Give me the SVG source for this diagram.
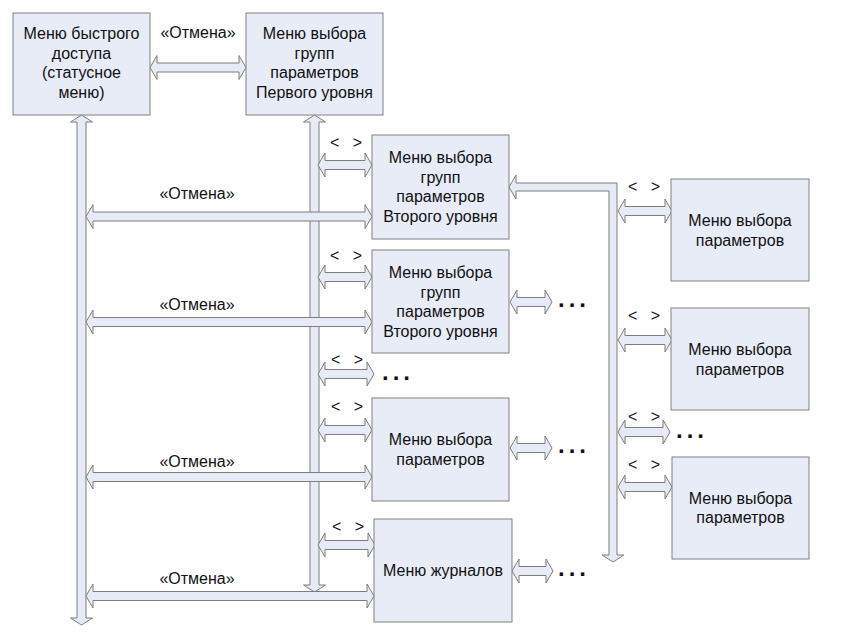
<svg xmlns="http://www.w3.org/2000/svg" width="855" height="638" viewBox="0 0 855 638">
<style>
.box{fill:#e8ecf7;stroke:#808080;stroke-width:1}
.arr{fill:#e6ebf6;stroke:#7d7d7d;stroke-width:1;stroke-linejoin:miter}
.t{font-family:"Liberation Sans",Arial,sans-serif;font-size:16px;fill:#111;text-anchor:middle}
.lt{font-family:"Liberation Sans",Arial,sans-serif;font-size:16px;fill:#111;white-space:pre}
.dots{font-family:"Liberation Sans",Arial,sans-serif;font-size:24px;font-weight:bold;fill:#111;letter-spacing:4px}
</style>
<rect width="855" height="638" fill="#fff"/>
<g id="connectors">
  <!-- vertical trunks -->
  <path class="arr" d="M81.5 115 L92.5 122 L86 122 L86 618 L92.5 618 L81.5 625 L70.5 618 L77 618 L77 122 L70.5 122 Z"/>
  <path class="arr" d="M314.5 115 L325.5 122 L319 122 L319 585 L325.5 585 L314.5 592 L303.5 585 L310 585 L310 122 L303.5 122 Z"/>
  <path class="arr" d="M509 187 L516 175 L516 183 L617 183 L617 555 L624 555 L613 562 L602 555 L609 555 L609 191 L516 191 L516 199 Z"/>
  <!-- top -->
  <path class="arr" d="M150 67.5 l7 -12 v7.5 h82 v-7.5 l7 12 l-7 12 v-7.5 h-82 v7.5 z"/>
  <!-- Отмена arrows -->
  <path class="arr" d="M86 216.5 l7 -12 v7.5 h272 v-7.5 l7 12 l-7 12 v-7.5 h-272 v7.5 z"/>
  <path class="arr" d="M86 322 l7 -12 v7.5 h272 v-7.5 l7 12 l-7 12 v-7.5 h-272 v7.5 z"/>
  <path class="arr" d="M86 477 l7 -12 v7.5 h272 v-7.5 l7 12 l-7 12 v-7.5 h-272 v7.5 z"/>
  <path class="arr" d="M86 596 l7 -12 v7.5 h274 v-7.5 l7 12 l-7 12 v-7.5 h-274 v7.5 z"/>
  <!-- < > arrows from second trunk -->
  <path class="arr" d="M318 165 l7 -12 v7.5 h40 v-7.5 l7 12 l-7 12 v-7.5 h-40 v7.5 z"/>
  <path class="arr" d="M318 277 l7 -12 v7.5 h40 v-7.5 l7 12 l-7 12 v-7.5 h-40 v7.5 z"/>
  <path class="arr" d="M318 374 l7 -12 v7.5 h42 v-7.5 l7 12 l-7 12 v-7.5 h-42 v7.5 z"/>
  <path class="arr" d="M318 430 l7 -12 v7.5 h40 v-7.5 l7 12 l-7 12 v-7.5 h-40 v7.5 z"/>
  <path class="arr" d="M318 545 l7 -12 v7.5 h43 v-7.5 l7 12 l-7 12 v-7.5 h-43 v7.5 z"/>
  <!-- box right arrows -->
  <path class="arr" d="M510 302 l7 -12 v7.5 h28 v-7.5 l7 12 l-7 12 v-7.5 h-28 v7.5 z"/>
  <path class="arr" d="M510 448 l7 -12 v7.5 h28 v-7.5 l7 12 l-7 12 v-7.5 h-28 v7.5 z"/>
  <path class="arr" d="M512 571 l7 -12 v7.5 h27 v-7.5 l7 12 l-7 12 v-7.5 h-27 v7.5 z"/>
  <!-- right trunk arrows -->
  <path class="arr" d="M618 211 l7 -12 v7.5 h40 v-7.5 l7 12 l-7 12 v-7.5 h-40 v7.5 z"/>
  <path class="arr" d="M618 340 l7 -12 v7.5 h40 v-7.5 l7 12 l-7 12 v-7.5 h-40 v7.5 z"/>
  <path class="arr" d="M618 432 l7 -12 v7.5 h38 v-7.5 l7 12 l-7 12 v-7.5 h-38 v7.5 z"/>
  <path class="arr" d="M618 487 l7 -12 v7.5 h40 v-7.5 l7 12 l-7 12 v-7.5 h-40 v7.5 z"/>
  <!-- labels -->
  <text class="t" x="198" y="38">«Отмена»</text>
  <text class="t" x="197" y="199">«Отмена»</text>
  <text class="t" x="197" y="310">«Отмена»</text>
  <text class="t" x="197" y="467">«Отмена»</text>
  <text class="t" x="197" y="584">«Отмена»</text>
  <text class="lt" x="330" y="148">&lt;   &gt;</text>
  <text class="lt" x="330" y="261">&lt;   &gt;</text>
  <text class="lt" x="331" y="365">&lt;   &gt;</text>
  <text class="lt" x="331" y="412">&lt;   &gt;</text>
  <text class="lt" x="332" y="532">&lt;   &gt;</text>
  <text class="lt" x="628" y="192">&lt;   &gt;</text>
  <text class="lt" x="628" y="321">&lt;   &gt;</text>
  <text class="lt" x="628" y="422">&lt;   &gt;</text>
  <text class="lt" x="628" y="470">&lt;   &gt;</text>
  <text class="dots" x="382" y="380">...</text>
  <text class="dots" x="558" y="307">...</text>
  <text class="dots" x="558" y="453">...</text>
  <text class="dots" x="558" y="576">...</text>
  <text class="dots" x="676" y="438">...</text>
</g>
<g id="node-quick">
  <rect class="box" x="13" y="13" width="137" height="102"/>
  <text class="t" x="81.5" y="39">Меню быстрого</text>
  <text class="t" x="81.5" y="58.5">доступа</text>
  <text class="t" x="81.5" y="78">(статусное</text>
  <text class="t" x="81.5" y="97.5">меню)</text>
</g>
<g id="node-level1">
  <rect class="box" x="246" y="13" width="137" height="102"/>
  <text class="t" x="314.5" y="39">Меню выбора</text>
  <text class="t" x="314.5" y="58.5">групп</text>
  <text class="t" x="314.5" y="78">параметров</text>
  <text class="t" x="314.5" y="97.5">Первого уровня</text>
</g>
<g id="node-level2a">
  <rect class="box" x="372" y="135" width="137" height="104"/>
  <text class="t" x="440.5" y="163">Меню выбора</text>
  <text class="t" x="440.5" y="182.5">групп</text>
  <text class="t" x="440.5" y="202">параметров</text>
  <text class="t" x="440.5" y="221.5">Второго уровня</text>
</g>
<g id="node-level2b">
  <rect class="box" x="372" y="250" width="137" height="103"/>
  <text class="t" x="440.5" y="278">Меню выбора</text>
  <text class="t" x="440.5" y="297.5">групп</text>
  <text class="t" x="440.5" y="317">параметров</text>
  <text class="t" x="440.5" y="336.5">Второго уровня</text>
</g>
<g id="node-params-mid">
  <rect class="box" x="372" y="398" width="137" height="103"/>
  <text class="t" x="440.5" y="445">Меню выбора</text>
  <text class="t" x="440.5" y="464.5">параметров</text>
</g>
<g id="node-logs">
  <rect class="box" x="374" y="519" width="138" height="103"/>
  <text class="t" x="443" y="576">Меню журналов</text>
</g>
<g id="node-params-r1">
  <rect class="box" x="671" y="179" width="138" height="102"/>
  <text class="t" x="740" y="226">Меню выбора</text>
  <text class="t" x="740" y="245.5">параметров</text>
</g>
<g id="node-params-r2">
  <rect class="box" x="671" y="308" width="138" height="102"/>
  <text class="t" x="740" y="355">Меню выбора</text>
  <text class="t" x="740" y="374.5">параметров</text>
</g>
<g id="node-params-r3">
  <rect class="box" x="672" y="457" width="137" height="102"/>
  <text class="t" x="740.5" y="503.5">Меню выбора</text>
  <text class="t" x="740.5" y="523">параметров</text>
</g>
</svg>
